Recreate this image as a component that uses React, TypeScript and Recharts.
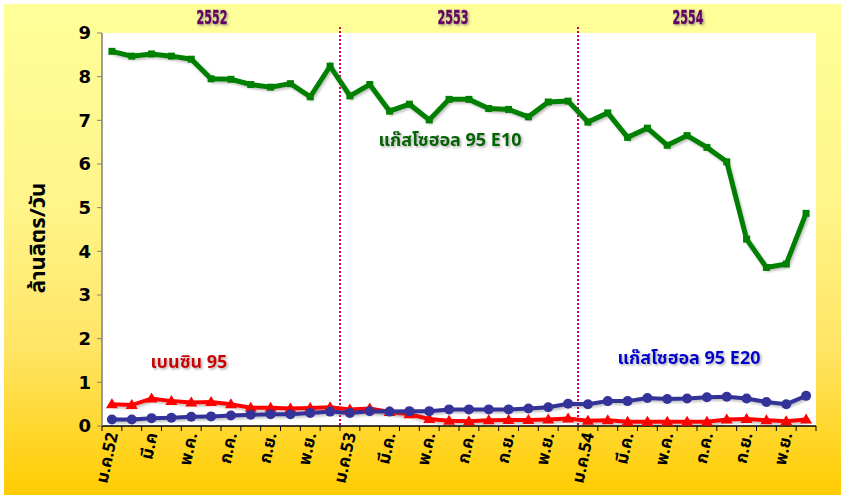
import React from 'react';
import { LineChart, Line, XAxis, YAxis, CartesianGrid, ReferenceLine } from 'recharts';

// months Jan 2552 .. Dec 2554 (unique category keys)
const months = [
  'ม.ค.52', 'ก.พ.52', 'มี.ค.52', 'เม.ย.52', 'พ.ค.52', 'มิ.ย.52', 'ก.ค.52', 'ส.ค.52', 'ก.ย.52', 'ต.ค.52', 'พ.ย.52', 'ธ.ค.52',
  'ม.ค.53', 'ก.พ.53', 'มี.ค.53', 'เม.ย.53', 'พ.ค.53', 'มิ.ย.53', 'ก.ค.53', 'ส.ค.53', 'ก.ย.53', 'ต.ค.53', 'พ.ย.53', 'ธ.ค.53',
  'ม.ค.54', 'ก.พ.54', 'มี.ค.54', 'เม.ย.54', 'พ.ค.54', 'มิ.ย.54', 'ก.ค.54', 'ส.ค.54', 'ก.ย.54', 'ต.ค.54', 'พ.ย.54', 'ธ.ค.54',
];

// labels printed under the axis (every other month)
const tickLabels = [
  'ม.ค.52', '', 'มี.ค', '', 'พ.ค.', '', 'ก.ค.', '', 'ก.ย.', '', 'พ.ย.', '',
  'ม.ค.53', '', 'มี.ค.', '', 'พ.ค.', '', 'ก.ค.', '', 'ก.ย.', '', 'พ.ย.', '',
  'ม.ค.54', '', 'มี.ค.', '', 'พ.ค.', '', 'ก.ค.', '', 'ก.ย.', '', 'พ.ย.', '',
];

const gasohol95E10 = [
  8.58, 8.47, 8.52, 8.47, 8.4, 7.95, 7.94, 7.82, 7.76, 7.84, 7.54, 8.24,
  7.56, 7.82, 7.21, 7.37, 7.01, 7.48, 7.48, 7.27, 7.25, 7.08, 7.42, 7.44,
  6.96, 7.17, 6.61, 6.82, 6.43, 6.65, 6.38, 6.05, 4.28, 3.63, 3.71, 4.87,
];

const benzin95 = [
  0.5, 0.48, 0.63, 0.57, 0.54, 0.55, 0.5, 0.42, 0.42, 0.4, 0.41, 0.43,
  0.38, 0.4, 0.32, 0.27, 0.16, 0.12, 0.11, 0.13, 0.14, 0.14, 0.15, 0.17,
  0.12, 0.13, 0.1, 0.1, 0.1, 0.1, 0.1, 0.15, 0.16, 0.13, 0.11, 0.15,
];

const gasohol95E20 = [
  0.15, 0.15, 0.18, 0.19, 0.21, 0.22, 0.24, 0.26, 0.27, 0.27, 0.3, 0.33,
  0.3, 0.34, 0.33, 0.34, 0.34, 0.38, 0.38, 0.38, 0.38, 0.4, 0.43, 0.51,
  0.5, 0.57, 0.57, 0.64, 0.62, 0.63, 0.66, 0.67, 0.63, 0.55, 0.5, 0.69,
];

const yTicks = [0, 1, 2, 3, 4, 5, 6, 7, 8, 9];
const years = ['2552', '2553', '2554'];

const data = months.map((m, i) => ({
  month: m,
  e10: gasohol95E10[i],
  b95: benzin95[i],
  e20: gasohol95E20[i],
}));

const W = 841;
const H = 498;
const LEFT = 102;
const RIGHT = 25;
const BAND = (W - LEFT - RIGHT) / months.length;
const thaiFont = "Tahoma, 'Noto Sans Thai', 'Noto Sans', sans-serif";

function MonthTick(props: any) {
  const { x, y, index } = props;
  const last = index === months.length - 1;
  const ax = x + 6;
  const ay = y + 8;
  const label = tickLabels[index];
  return (
    <g>
      <line x1={x - BAND / 2} y1={y} x2={x - BAND / 2} y2={y + 5} stroke="#000" />
      {last && <line x1={x + BAND / 2} y1={y} x2={x + BAND / 2} y2={y + 5} stroke="#000" />}
      {label && (
        <text
          x={ax}
          y={ay}
          transform={`rotate(-78, ${ax}, ${ay})`}
          textAnchor="end"
          fontSize={17}
          fontWeight="bold"
          fontFamily={thaiFont}
          fill="#000"
        >
          {label}
        </text>
      )}
    </g>
  );
}

const SquareDot = (p: any) => (
  <rect key={p.key} x={p.cx - 3.5} y={p.cy - 3.5} width={7} height={7} fill="#008000" />
);
const TriDot = (p: any) => (
  <path
    key={p.key}
    d={`M${p.cx},${p.cy - 6} L${p.cx + 6},${p.cy + 4} L${p.cx - 6},${p.cy + 4} Z`}
    fill="#FF0000"
  />
);
const CircleDot = (p: any) => <circle key={p.key} cx={p.cx} cy={p.cy} r={5} fill="#333399" />;

const DivLine = (p: any) => (
  <line
    x1={p.x1}
    y1={Math.min(p.y1, p.y2) - 6}
    x2={p.x2}
    y2={Math.max(p.y1, p.y2)}
    stroke="#CC0066"
    strokeWidth={2}
    strokeDasharray="2 2"
  />
);

export default function App() {
  return (
    <div style={{ position: 'absolute', left: 0, top: 0, width: W, height: H, background: '#fff' }}>
      <svg width={0} height={0} style={{ position: 'absolute' }}>
        <defs>
          <filter id="lshadow" x="-5%" y="-20%" width="110%" height="140%">
            <feDropShadow dx="1.5" dy="2" stdDeviation="1.2" floodColor="#555" floodOpacity="0.35" />
          </filter>
          <filter id="tshadow" x="-10%" y="-30%" width="130%" height="160%">
            <feDropShadow dx="1.5" dy="1.5" stdDeviation="1" floodColor="#777" floodOpacity="0.6" />
          </filter>
        </defs>
      </svg>
      <div
        style={{
          position: 'absolute',
          left: 4,
          top: 4,
          width: W - 4,
          height: H - 7,
          background: 'linear-gradient(to bottom, #FFFF99 0%, #FFF58A 40%, #FFE566 70%, #FFCC00 100%)',
        }}
      />
      <div style={{ position: 'absolute', left: 0, top: 0 }}>
        <LineChart width={W} height={H} data={data} margin={{ top: 33, right: RIGHT, left: 0, bottom: 0 }}>
          <CartesianGrid horizontal={false} vertical={false} fill="#fff" />
          <XAxis
            dataKey="month"
            scale="band"
            interval={0}
            height={72}
            tickSize={0}
            tickMargin={0}
            tick={<MonthTick />}
            axisLine={{ stroke: '#000', strokeWidth: 1.5 }}
            tickLine={false}
          />
          <YAxis
            width={LEFT}
            domain={[0, 9]}
            ticks={yTicks}
            interval={0}
            tickSize={5}
            tickMargin={6}
            axisLine={{ stroke: '#808080', strokeWidth: 1.5 }}
            tickLine={{ stroke: '#808080' }}
            tick={{ fontSize: 18, fontWeight: 'bold', fill: '#000', fontFamily: 'DejaVu Sans' }}
          />
          <ReferenceLine x="ม.ค.53" position="start" stroke="#CC0066" shape={DivLine} />
          <ReferenceLine x="ม.ค.54" position="start" stroke="#CC0066" shape={DivLine} />
          <Line
            dataKey="b95"
            stroke="#FF0000"
            strokeWidth={4}
            dot={TriDot}
            filter="url(#lshadow)"
            isAnimationActive={false}
          />
          <Line
            dataKey="e20"
            stroke="#333399"
            strokeWidth={4}
            dot={CircleDot}
            filter="url(#lshadow)"
            isAnimationActive={false}
          />
          <Line
            dataKey="e10"
            stroke="#008000"
            strokeWidth={5}
            dot={SquareDot}
            filter="url(#lshadow)"
            isAnimationActive={false}
          />
        </LineChart>
      </div>
      <svg
        width={W}
        height={H}
        style={{ position: 'absolute', left: 0, top: 0, pointerEvents: 'none' }}
      >
        {years.map((yr, i) => (
          <text
            key={yr}
            x={[212, 453, 688][i]}
            y={24}
            textAnchor="middle"
            fontSize={20}
            fontWeight="bold"
            fontFamily="'DejaVu Sans', sans-serif"
            fill="#660066"
            stroke="#660066"
            strokeWidth={0.6}
            textLength={31}
            lengthAdjust="spacingAndGlyphs"
            filter="url(#tshadow)"
          >
            {yr}
          </text>
        ))}
        <text
          x={45}
          y={238}
          transform="rotate(-90, 45, 238)"
          textAnchor="middle"
          fontSize={22}
          fontWeight="bold"
          fontFamily={thaiFont}
          fill="#000"
        >
          ล้านลิตร/วัน
        </text>
        <text x={450} y={146} textAnchor="middle" fontSize={18} fontWeight="bold" fontFamily={thaiFont} fill="#006600" filter="url(#tshadow)">
          แก๊สโซฮอล 95 E10
        </text>
        <text x={189} y={368} textAnchor="middle" fontSize={18} fontWeight="bold" fontFamily={thaiFont} fill="#CC0000" filter="url(#tshadow)">
          เบนซิน 95
        </text>
        <text x={689} y={364} textAnchor="middle" fontSize={18} fontWeight="bold" fontFamily={thaiFont} fill="#0000CC" filter="url(#tshadow)">
          แก๊สโซฮอล 95 E20
        </text>
      </svg>
    </div>
  );
}
